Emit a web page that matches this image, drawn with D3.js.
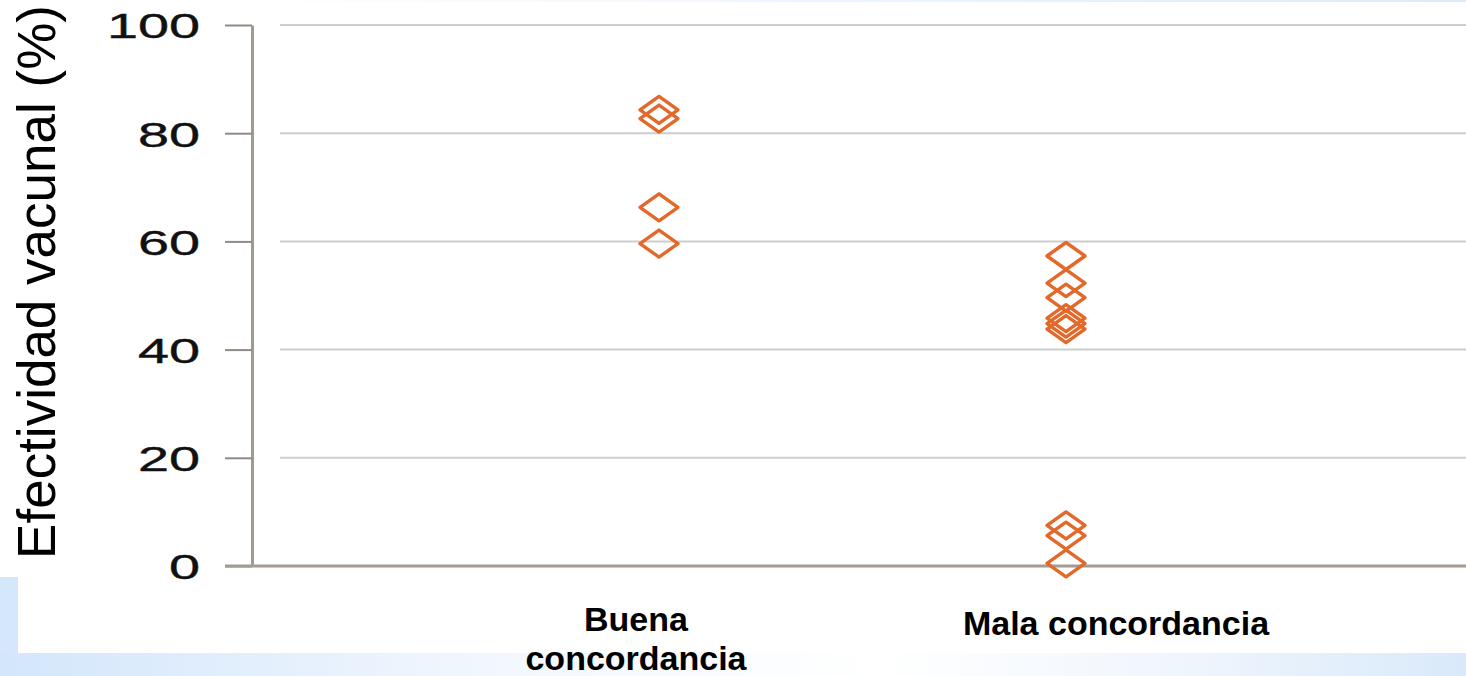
<!DOCTYPE html>
<html>
<head>
<meta charset="utf-8">
<script src="https://cdn.jsdelivr.net/npm/d3@7"></script>
<style>
  html, body { margin: 0; padding: 0; background: #ffffff; }
  svg { display: block; }
</style>
</head>
<body>
<div id="grafico"></div>
<script>
// Datos
const categorias = ["Buena concordancia", "Mala concordancia"];
const valoresBuena = [84.3, 82.7, 66.3, 59.6];
const valoresMala = [57.3, 52.3, 49.6, 45.8, 44.8, 43.8, 7.5, 5.6, 0.5];
const marcasY = [0, 20, 40, 60, 80, 100];
const lineasEtiqueta = [["Buena", "concordancia"], ["Mala concordancia"]];
const tituloY = "Efectividad vacunal (%)";

const ancho = 1466, alto = 676;
const ejeX = 252;
const naranja = "#e3692b";
const puntos = [
    ...valoresBuena.map(v => ({ cat: categorias[0], v })),
    ...valoresMala.map(v => ({ cat: categorias[1], v }))
];

const $svg = d3.select("#grafico")
    .append("svg")
    .attr("width", ancho)
    .attr("height", alto);

// Fondo azul claro de los bordes
const defs = $svg.append("defs");
const grad = defs.append("linearGradient").attr("id", "fondoInf");
grad.append("stop").attr("offset", "0%").attr("stop-color", "#d3e6fb");
grad.append("stop").attr("offset", "35%").attr("stop-color", "#f3f8fe");
grad.append("stop").attr("offset", "60%").attr("stop-color", "#ffffff");
grad.append("stop").attr("offset", "80%").attr("stop-color", "#f0f6fd");
grad.append("stop").attr("offset", "100%").attr("stop-color", "#d9e9fa");
$svg.append("rect").attr("x", 0).attr("y", 653).attr("width", ancho).attr("height", alto - 653)
    .attr("fill", "url(#fondoInf)");
$svg.append("rect").attr("x", 0).attr("y", 577).attr("width", 18).attr("height", 76)
    .attr("fill", "#d5e8fb");
const gradSup = defs.append("linearGradient").attr("id", "fondoSup");
gradSup.append("stop").attr("offset", "0%").attr("stop-color", "#ffffff");
gradSup.append("stop").attr("offset", "100%").attr("stop-color", "#dceafa");
$svg.append("rect").attr("x", 230).attr("y", 0).attr("width", ancho - 230).attr("height", 2)
    .attr("fill", "url(#fondoSup)");

const y = d3.scaleLinear().domain([0, 100]).range([566, 25]);
const x = d3.scalePoint().domain(categorias).range([659, 1066]);

// Lineas de cuadricula
$svg.append("g")
    .selectAll("line")
    .data(marcasY.filter(d => d > 0))
    .join("line")
    .attr("x1", 280)
    .attr("x2", ancho)
    .attr("y1", d => y(d))
    .attr("y2", d => y(d))
    .attr("stroke", "#cdcdcd")
    .attr("stroke-width", 2);

// Eje Y
const ejeY = $svg.append("g")
    .attr("transform", `translate(${ejeX},0)`)
    .call(d3.axisLeft(y).tickValues(marcasY).tickSize(27).tickSizeOuter(0));
ejeY.select(".domain").attr("stroke", "#a09a91").attr("stroke-width", 3);
ejeY.selectAll(".tick line").attr("stroke", "#8f8a84").attr("stroke-width", 2);
ejeY.selectAll(".tick text")
    .attr("font-family", "'Liberation Sans', Arial, sans-serif")
    .attr("font-size", 36)
    .attr("fill", "#111")
    .attr("stroke", "#111")
    .attr("stroke-width", 0.4)
    .attr("x", -52 / 1.55)
    .attr("dy", "0.36em")
    .attr("transform", "scale(1.55,1)");

// Linea del cero
$svg.append("line")
    .attr("x1", 225)
    .attr("x2", ancho)
    .attr("y1", y(0))
    .attr("y2", y(0))
    .attr("stroke", "#a29c94")
    .attr("stroke-width", 3);

// Diamantes
const diamante = d3.line()([[0, -13.5], [19, 0], [0, 13.5], [-19, 0]]) + "Z";
$svg.append("g")
    .selectAll("path")
    .data(puntos)
    .join("path")
    .attr("d", diamante)
    .attr("transform", d => `translate(${x(d.cat)},${y(d.v)})`)
    .attr("fill", "none")
    .attr("stroke", naranja)
    .attr("stroke-width", 3.4)
    .attr("stroke-linejoin", "round");

// Etiquetas de categorias
const desplazamiento = [-23, 50];
const etiquetas = $svg.append("g")
    .attr("font-family", "'Liberation Sans', Arial, sans-serif")
    .attr("font-weight", "bold")
    .attr("font-size", 34)
    .attr("fill", "#000")
    .attr("text-anchor", "middle");
categorias.forEach((c, i) => {
    const t = etiquetas.append("text")
        .attr("x", x(c) + desplazamiento[i])
        .attr("y", i === 0 ? 631 : 635);
    lineasEtiqueta[i].forEach((l, j) => {
        t.append("tspan")
            .attr("x", x(c) + desplazamiento[i])
            .attr("dy", j === 0 ? 0 : 39)
            .text(l);
    });
});

// Titulo del eje Y
$svg.append("text")
    .attr("transform", "translate(55,282) rotate(-90)")
    .attr("font-family", "'Liberation Sans', Arial, sans-serif")
    .attr("font-size", 53)
    .attr("fill", "#000")
    .attr("text-anchor", "middle")
    .text(tituloY);
</script>
</body>
</html>
